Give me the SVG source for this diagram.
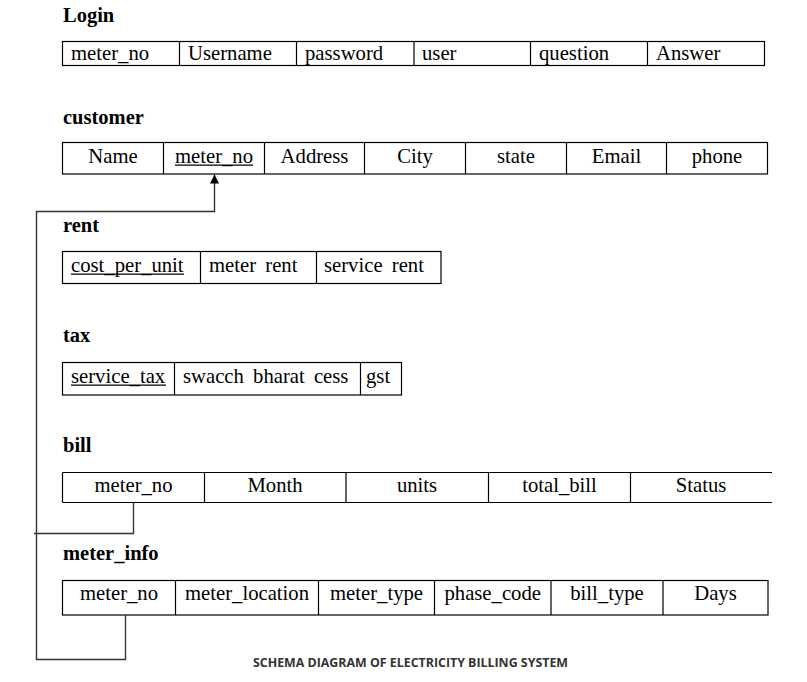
<svg xmlns="http://www.w3.org/2000/svg" width="807" height="682" viewBox="0 0 807 682">
<defs>
<style>
.title{font-family:"Liberation Serif","Times New Roman",serif;font-weight:bold;font-size:20.5px;fill:#000}
.f{font-family:"Liberation Serif","Times New Roman",serif;font-size:20.7px;fill:#000}
.c{text-anchor:middle}
.ul{stroke:#000;stroke-width:1.2}
.box{fill:#fff;stroke:#000;stroke-width:1.2}
.ln{stroke:#000;stroke-width:1.2;fill:none}
.con{stroke:#333;stroke-width:1.4;fill:none}
.cap{font-family:"Open Sans","Noto Sans",sans-serif;font-weight:bold;font-size:12px;fill:#333}
</style>
<marker id="arr" viewBox="0 0 10 10" refX="10" refY="5" markerUnits="userSpaceOnUse" markerWidth="10" markerHeight="9" orient="auto-start-reverse">
<path d="M0,0 L10,5 L0,10 z" fill="#000"/>
</marker>
</defs>
<rect width="807" height="682" fill="#fff"/>

<g id="login">
<text class="title" x="63" y="22">Login</text>
<rect class="box" x="62.5" y="41.5" width="702" height="24"/>
<path class="ln" d="M179.5,41.5V65.5M296.5,41.5V65.5M414,41.5V65.5M530.5,41.5V65.5M647.5,41.5V65.5"/>
<text class="f" x="71" y="60">meter_no</text>
<text class="f" x="188" y="60">Username</text>
<text class="f" x="305" y="60">password</text>
<text class="f" x="422" y="60">user</text>
<text class="f" x="539" y="60">question</text>
<text class="f" x="656" y="60">Answer</text>
</g>

<g id="customer">
<text class="title" x="63" y="124">customer</text>
<rect class="box" x="62.5" y="142.5" width="705" height="31.5"/>
<path class="ln" d="M163.5,142.5V174M264.5,142.5V174M364.5,142.5V174M465.5,142.5V174M566.5,142.5V174M666.5,142.5V174"/>
<text class="f c" x="113" y="163">Name</text>
<text class="f c" x="214" y="163">meter_no</text>
<line class="ul" x1="175" y1="165.2" x2="253" y2="165.2"/>
<text class="f c" x="314.5" y="163">Address</text>
<text class="f c" x="415" y="163">City</text>
<text class="f c" x="516" y="163">state</text>
<text class="f c" x="616.5" y="163">Email</text>
<text class="f c" x="717" y="163">phone</text>
</g>

<g id="rent">
<text class="title" x="63" y="232">rent</text>
<rect class="box" x="62.5" y="251.5" width="378.5" height="32"/>
<path class="ln" d="M200.5,251.5V283.5M316.5,251.5V283.5"/>
<text class="f" x="71" y="272">cost_per_unit</text>
<line class="ul" x1="71" y1="274.2" x2="184" y2="274.2"/>
<text class="f" x="209" y="272" word-spacing="4">meter rent</text>
<text class="f" x="324" y="272" word-spacing="4">service rent</text>
</g>

<g id="tax">
<text class="title" x="63" y="342">tax</text>
<rect class="box" x="62.5" y="362.5" width="339" height="32.5"/>
<path class="ln" d="M174.5,362.5V395M360.5,362.5V395"/>
<text class="f" x="71" y="383">service_tax</text>
<line class="ul" x1="71" y1="385.2" x2="166" y2="385.2"/>
<text class="f" x="183" y="383" word-spacing="4">swacch bharat cess</text>
<text class="f" x="366" y="383">gst</text>
</g>

<g id="bill">
<text class="title" x="63" y="452">bill</text>
<path class="ln" d="M62.5,472.5H772M62.5,502.5H772M62.5,472.5V502.5M204.5,472.5V502.5M346,472.5V502.5M488.5,472.5V502.5M630.5,472.5V502.5"/>
<text class="f c" x="133.5" y="492">meter_no</text>
<text class="f c" x="275" y="492">Month</text>
<text class="f c" x="417" y="492">units</text>
<text class="f c" x="559.5" y="492">total_bill</text>
<text class="f c" x="701" y="492">Status</text>
</g>

<g id="meter_info">
<text class="title" x="63" y="560">meter_info</text>
<rect class="box" x="62.5" y="580.5" width="705.5" height="34.5"/>
<path class="ln" d="M175.5,580.5V615M318.5,580.5V615M434.5,580.5V615M551,580.5V615M663,580.5V615"/>
<text class="f c" x="119" y="600">meter_no</text>
<text class="f c" x="247" y="600">meter_location</text>
<text class="f c" x="376.5" y="600">meter_type</text>
<text class="f c" x="492.7" y="600">phase_code</text>
<text class="f c" x="607" y="600">bill_type</text>
<text class="f c" x="715.5" y="600">Days</text>
</g>

<g id="connectors">
<path class="con" d="M214.5,174.5V211.5H36.5V659.5H125.5V615" marker-start="url(#arr)"/>
<path class="con" d="M133.5,503V533.5H34"/>
</g>

<text class="cap" x="253" y="667" textLength="315" lengthAdjust="spacingAndGlyphs">SCHEMA DIAGRAM OF ELECTRICITY BILLING SYSTEM</text>
</svg>
